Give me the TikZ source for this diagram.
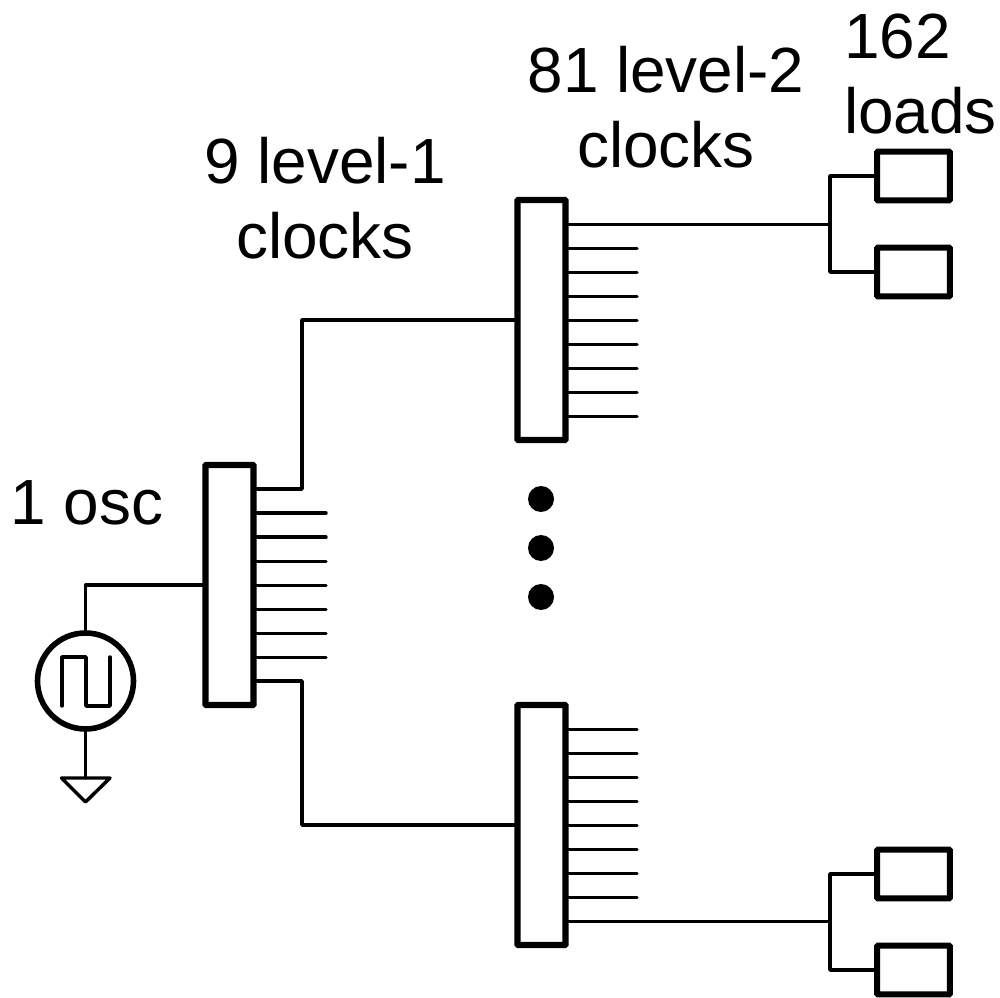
\documentclass[tikz,border=0pt]{standalone}
\usepackage{fontspec}
\setmainfont{Liberation Sans}
\usetikzlibrary{calc}
\tikzset{
  wire/.style={line width=2.6pt,line join=round,line cap=round},
  bus/.style={draw,line width=4.6pt,rounded corners=0.6pt,minimum width=36pt,minimum height=180pt,inner sep=0pt,outer sep=0pt,fill=white},
  loadbox/.style={draw,line width=4.6pt,rounded corners=0.6pt,minimum width=54.5pt,minimum height=36.5pt,inner sep=0pt,outer sep=0pt,fill=white},
  lbl/.style={inner sep=0pt,outer sep=0pt,font=\fontsize{47.9}{56.5}\selectfont},
  dotn/.style={circle,fill=black,minimum size=19.5pt,inner sep=0pt,outer sep=0pt},
  oscn/.style={circle,draw,line width=4.2pt,minimum size=72pt,inner sep=0pt,outer sep=0pt},
}
\begin{document}
\begin{tikzpicture}[x=0.75pt,y=-0.75pt]
\useasboundingbox (0,0) rectangle (1000,998);
% connectors first, boxes on top
\node[bus] (l1) at (229.5,585) {};
\node[bus] (t2) at (541.5,320) {};
\node[bus] (b2) at (541.5,825) {};
\node[loadbox] (la) at (913.5,176) {};
\node[loadbox] (lb) at (913.5,272) {};
\node[loadbox] (lc) at (913.5,874) {};
\node[loadbox] (ld) at (913.5,970) {};
% oscillator and ground
\node[oscn] (osc) at (85.5,681) {};
\coordinate (gt) at (85.5,778);
\coordinate (gl) at (61.5,778);
\coordinate (gr) at (110,778);
\coordinate (ga) at (85.5,802);
\draw[wire] (osc.south) -- (gt);
\draw[wire] (gl) -- (gr) -- (ga) -- cycle;
\coordinate (w0) at (62,706);
\coordinate (w1) at (62,657);
\coordinate (w2) at (86,657);
\coordinate (w3) at (86,706);
\coordinate (w4) at (110,706);
\coordinate (w5) at (110,657);
\draw[wire] (w0) -- (w1) -- (w2) -- (w3) -- (w4) -- (w5);
\draw[wire] (osc.north) |- (l1.west);
% stubs
\foreach \i in {1,...,7}{
  \coordinate (p\i) at (326,{489+24.1*\i});
  \draw[wire] (l1.east |- p\i) -- (p\i);
}
\foreach \i in {1,...,8}{
  \coordinate (q\i) at (637,{224.4+24*\i});
  \draw[wire] (t2.east |- q\i) -- (q\i);
  \coordinate (r\i) at (637,{729.4+24*(\i-1)});
  \draw[wire] (b2.east |- r\i) -- (r\i);
}
% level 1 to level 2
\coordinate (ua) at (302,489);
\coordinate (da) at (302,681);
\draw[wire] (l1.east |- ua) -- (ua) |- (t2.west);
\draw[wire] (l1.east |- da) -- (da) |- (b2.west);
% level 2 to loads
\coordinate (bt) at (830,224.4);
\coordinate (bb) at (830,921.4);
\draw[wire] (t2.east |- bt) -- (bt);
\draw[wire] (bt) |- (la.west);
\draw[wire] (bt) |- (lb.west);
\draw[wire] (b2.east |- bb) -- (bb);
\draw[wire] (bb) |- (lc.west);
\draw[wire] (bb) |- (ld.west);
% dots
\node[dotn] (d1) at (541,499) {};
\node[dotn] (d2) at (541,548) {};
\node[dotn] (d3) at (541,597) {};
% labels
\node[lbl,align=center] (t1) at (325,198) {9 level-1\\clocks};
\node[lbl,align=center] (t3) at (666,107) {81 level-2\\clocks};
\node[lbl,align=left] (t4) at (920.5,74) {162\\loads};
\node[lbl] (t5) at (87,503) {1 osc};
\end{tikzpicture}
\end{document}
